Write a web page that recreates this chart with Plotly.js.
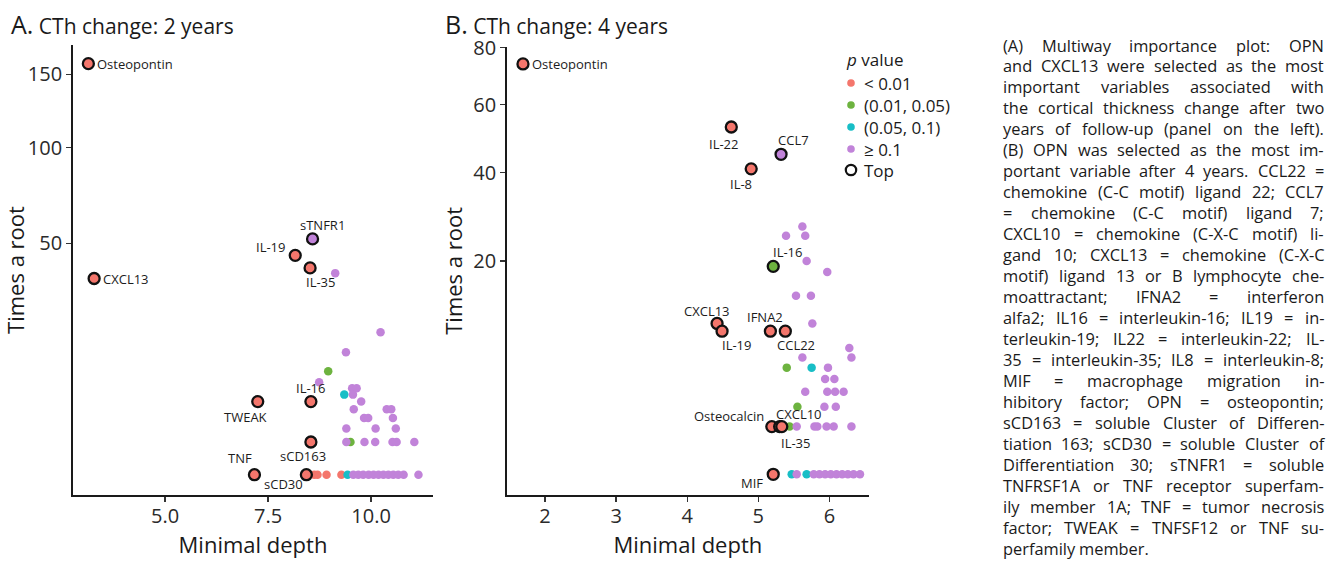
<!DOCTYPE html>
<html><head><meta charset="utf-8">
<script src="https://cdn.plot.ly/plotly-3.0.1.min.js"></script>
<style>html,body{margin:0;padding:0;background:#fff;}#chart{width:1338px;height:562px;}</style>
</head><body><div id="chart"></div>
<script>
// ---------- DATA ----------
const pLevels = ['<0.01', '0.01-0.05', '0.05-0.1', '>=0.1'];
const pLabels = ['< 0.01', '(0.01, 0.05)', '(0.05, 0.1)', '\u2265 0.1'];

// Panel A: CTh change, 2 years — top (labelled) variables
const aTopNames = ['Osteopontin', 'CXCL13', 'sTNFR1', 'IL-19', 'IL-35', 'IL-16', 'TWEAK', 'sCD163', 'TNF', 'sCD30'];
const aTopDepth = [3.14, 3.28, 8.58, 8.16, 8.52, 8.54, 7.25, 8.54, 7.17, 8.43];
const aTopTimes = [158, 36, 52, 45, 40, 5, 5, 1, 0, 0];
const aTopP = ['<0.01', '<0.01', '>=0.1', '<0.01', '<0.01', '<0.01', '<0.01', '<0.01', '<0.01', '<0.01'];

// Panel A — other variables
const aOtherDepth = [9.13, 10.23, 9.39, 8.96, 8.74, 9.54, 9.65, 9.35, 9.56, 9.76,
  9.58, 10.38, 10.49, 9.83, 9.93, 10.53, 9.40, 10.11, 10.60,
  9.40, 9.50, 9.84, 10.10, 10.52, 10.62, 11.05,
  8.62, 8.70, 8.92, 9.28, 9.43, 9.57, 9.69, 9.81, 9.94, 10.06, 10.18, 10.30, 10.42, 10.54, 10.66, 10.79, 11.15];
const aOtherTimes = [38, 19, 14, 10, 8, 7, 7, 6, 6, 5,
  4, 4, 4, 3, 3, 3, 2, 2, 2,
  1, 1, 1, 1, 1, 1, 1,
  0, 0, 0, 0, 0, 0, 0, 0, 0, 0, 0, 0, 0, 0, 0, 0, 0];
const aOtherP = ['>=0.1', '>=0.1', '>=0.1', '0.01-0.05', '>=0.1', '>=0.1', '>=0.1', '0.05-0.1', '>=0.1', '>=0.1',
  '>=0.1', '>=0.1', '>=0.1', '>=0.1', '>=0.1', '>=0.1', '>=0.1', '>=0.1', '>=0.1',
  '>=0.1', '0.01-0.05', '>=0.1', '>=0.1', '>=0.1', '>=0.1', '>=0.1',
  '<0.01', '<0.01', '<0.01', '<0.01', '0.05-0.1', '>=0.1', '>=0.1', '>=0.1', '>=0.1', '>=0.1', '>=0.1', '>=0.1', '>=0.1', '>=0.1', '>=0.1', '>=0.1', '>=0.1'];

// Panel B: CTh change, 4 years — top (labelled) variables
const bTopNames = ['Osteopontin', 'IL-22', 'CCL7', 'IL-8', 'IL-16', 'CXCL13', 'IL-19', 'IFNA2', 'CCL22', 'Osteocalcin', 'CXCL10', 'IL-35', 'MIF'];
const bTopDepth = [1.69, 4.62, 5.32, 4.90, 5.21, 4.42, 4.49, 5.17, 5.38, 5.19, 5.30, 5.33, 5.21];
const bTopTimes = [74, 53, 45, 41, 19, 10, 9, 9, 9, 1, 1, 1, 0];
const bTopP = ['<0.01', '<0.01', '>=0.1', '<0.01', '0.01-0.05', '<0.01', '<0.01', '<0.01', '<0.01', '<0.01', '<0.01', '<0.01', '<0.01'];

// Panel B — other variables
const bOtherDepth = [5.62, 5.39, 5.66, 5.68, 5.97, 5.53, 5.74, 5.76, 6.28, 5.62, 6.31,
  5.40, 5.75, 5.98, 5.94, 6.07, 5.66, 5.97, 6.08, 6.20, 5.55, 5.93, 6.09,
  5.44, 5.54, 5.79, 5.83, 5.96, 6.06, 6.31,
  5.47, 5.54, 5.68, 5.78, 5.86, 5.94, 6.02, 6.10, 6.18, 6.26, 6.34, 6.43];
const bOtherTimes = [27, 25, 25, 20, 18, 14, 14, 10, 7, 6, 6,
  5, 5, 5, 4, 4, 3, 3, 3, 3, 2, 2, 2,
  1, 1, 1, 1, 1, 1, 1,
  0, 0, 0, 0, 0, 0, 0, 0, 0, 0, 0, 0];
const bOtherP = ['>=0.1', '>=0.1', '>=0.1', '>=0.1', '>=0.1', '>=0.1', '>=0.1', '>=0.1', '>=0.1', '>=0.1', '>=0.1',
  '0.01-0.05', '0.05-0.1', '>=0.1', '>=0.1', '>=0.1', '>=0.1', '>=0.1', '>=0.1', '>=0.1', '0.01-0.05', '>=0.1', '>=0.1',
  '0.01-0.05', '>=0.1', '>=0.1', '>=0.1', '>=0.1', '>=0.1', '>=0.1',
  '0.05-0.1', '>=0.1', '0.05-0.1', '>=0.1', '>=0.1', '>=0.1', '>=0.1', '>=0.1', '>=0.1', '>=0.1', '>=0.1', '>=0.1'];

const aYTicks = [50, 100, 150];
const aXTicks = [5, 7.5, 10];
const bYTicks = [20, 40, 60, 80];
const bXTicks = [2, 3, 4, 5, 6];

const captionLines = [
  "(A) Multiway importance plot: OPN",
  "and CXCL13 were selected as the most",
  "important variables associated with",
  "the cortical thickness change after two",
  "years of follow-up (panel on the left).",
  "(B) OPN was selected as the most im-",
  "portant variable after 4 years. CCL22 =",
  "chemokine (C-C motif) ligand 22; CCL7",
  "= chemokine (C-C motif) ligand 7;",
  "CXCL10 = chemokine (C-X-C motif) li-",
  "gand 10; CXCL13 = chemokine (C-X-C",
  "motif) ligand 13 or B lymphocyte che-",
  "moattractant; IFNA2 = interferon",
  "alfa2; IL16 = interleukin-16; IL19 = in-",
  "terleukin-19; IL22 = interleukin-22; IL-",
  "35 = interleukin-35; IL8 = interleukin-8;",
  "MIF = macrophage migration in-",
  "hibitory factor; OPN = osteopontin;",
  "sCD163 = soluble Cluster of Differen-",
  "tiation 163; sCD30 = soluble Cluster of",
  "Differentiation 30; sTNFR1 = soluble",
  "TNFRSF1A or TNF receptor superfam-",
  "ily member 1A; TNF = tumor necrosis",
  "factor; TWEAK = TNFSF12 or TNF su-",
  "perfamily member."
];

// ---------- STYLE ----------
const W = 1338, H = 562;
const FONT = '"Open Sans", sans-serif';
const colorOf = {'<0.01': '#F4766C', '0.01-0.05': '#6DB33F', '0.05-0.1': '#18BEC6', '>=0.1': '#C183D9'};
const px = x => x / W;
const py = y => 1 - y / H;

// label offsets (pixels) for the labelled points
const aLabelPos = {
  'Osteopontin': {xs: 8, ys: 0, xa: 'left'},
  'CXCL13': {xs: 8, ys: 0, xa: 'left'},
  'sTNFR1': {xs: 10, ys: 14, xa: 'center'},
  'IL-19': {xs: -9, ys: 8, xa: 'right'},
  'IL-35': {xs: 10, ys: -14, xa: 'center'},
  'IL-16': {xs: 0, ys: 14, xa: 'center'},
  'TWEAK': {xs: -12, ys: -15, xa: 'center'},
  'sCD163': {xs: -8, ys: -14, xa: 'center'},
  'TNF': {xs: -14, ys: 17, xa: 'center'},
  'sCD30': {xs: -23, ys: -9, xa: 'center'}
};
const bLabelPos = {
  'Osteopontin': {xs: 8, ys: 0, xa: 'left'},
  'IL-22': {xs: -8, ys: -17, xa: 'center'},
  'CCL7': {xs: 12, ys: 14, xa: 'center'},
  'IL-8': {xs: -10, ys: -15, xa: 'center'},
  'IL-16': {xs: 14, ys: 14, xa: 'center'},
  'CXCL13': {xs: -10, ys: 12, xa: 'center'},
  'IL-19': {xs: 14, ys: -14, xa: 'center'},
  'IFNA2': {xs: -5, ys: 14, xa: 'center'},
  'CCL22': {xs: 11, ys: -14, xa: 'center'},
  'Osteocalcin': {xs: -7, ys: 11, xa: 'right'},
  'CXCL10': {xs: 19, ys: 13, xa: 'center'},
  'IL-35': {xs: 14, ys: -16, xa: 'center'},
  'MIF': {xs: -21, ys: -9, xa: 'center'}
};

// ---------- TRACES ----------
const traces = [];
function addPanel(depthO, timesO, pO, depthT, timesT, pT, xa, ya) {
  pLevels.forEach(lv => {
    const idx = pO.map((p, i) => p === lv ? i : -1).filter(i => i >= 0);
    traces.push({
      type: 'scatter', mode: 'markers', xaxis: xa, yaxis: ya, hoverinfo: 'skip',
      x: idx.map(i => depthO[i]), y: idx.map(i => Math.sqrt(timesO[i])),
      marker: {size: 8.5, color: colorOf[lv], line: {width: 0}}
    });
  });
  traces.push({
    type: 'scatter', mode: 'markers', xaxis: xa, yaxis: ya, hoverinfo: 'skip',
    x: depthT, y: timesT.map(v => Math.sqrt(v)),
    marker: {size: 11, color: pT.map(p => colorOf[p]), line: {width: 2.3, color: '#111'}}
  });
}
addPanel(aOtherDepth, aOtherTimes, aOtherP, aTopDepth, aTopTimes, aTopP, 'x', 'y');
addPanel(bOtherDepth, bOtherTimes, bOtherP, bTopDepth, bTopTimes, bTopP, 'x2', 'y2');

// ---------- ANNOTATIONS ----------
const annotations = [];
function addLabels(names, depth, times, pos, xr, yr) {
  names.forEach((n, i) => {
    const p = pos[n];
    annotations.push({
      x: depth[i], y: Math.sqrt(times[i]), xref: xr, yref: yr, text: n, showarrow: false,
      xanchor: p.xa, yanchor: 'middle', xshift: p.xs, yshift: p.ys, borderpad: 0,
      font: {family: FONT, size: 13, color: '#1c1c1c'}
    });
  });
}
addLabels(aTopNames, aTopDepth, aTopTimes, aLabelPos, 'x', 'y');
addLabels(bTopNames, bTopDepth, bTopTimes, bLabelPos, 'x2', 'y2');

// panel titles
[['A.', 'CTh change: 2 years', 10], ['B.', 'CTh change: 4 years', 444]].forEach(t => {
  annotations.push({
    x: px(t[2]), y: py(24), xref: 'paper', yref: 'paper', xanchor: 'left', yanchor: 'middle', showarrow: false,
    borderpad: 0,
    text: '<span style="font-size:25px">' + t[0] + '</span> ' + t[1],
    font: {family: FONT, size: 21, color: '#1a1a1a'}
  });
});

// legend (manual)
const shapes = [];
annotations.push({x: px(845), y: py(59), xref: 'paper', yref: 'paper', xanchor: 'left', yanchor: 'middle', showarrow: false,
  borderpad: 0, text: '<i>p</i> value', font: {family: FONT, size: 17, color: '#1a1a1a'}});
const legY = [83, 105, 127, 149];
pLevels.forEach((lv, i) => {
  const cx = 851, cy = legY[i], r = 3.8;
  shapes.push({type: 'circle', xref: 'paper', yref: 'paper', x0: px(cx - r), x1: px(cx + r), y0: py(cy + r), y1: py(cy - r),
    fillcolor: colorOf[lv], line: {width: 0}});
  annotations.push({x: px(863), y: py(cy), xref: 'paper', yref: 'paper', xanchor: 'left', yanchor: 'middle', showarrow: false,
    borderpad: 0, text: pLabels[i], font: {family: FONT, size: 17, color: '#1a1a1a'}});
});
{
  const cx = 851, cy = 170, r = 5.2;
  shapes.push({type: 'circle', xref: 'paper', yref: 'paper', x0: px(cx - r), x1: px(cx + r), y0: py(cy + r), y1: py(cy - r),
    fillcolor: '#fff', line: {width: 2.2, color: '#111'}});
  annotations.push({x: px(863), y: py(cy), xref: 'paper', yref: 'paper', xanchor: 'left', yanchor: 'middle', showarrow: false,
    borderpad: 0, text: 'Top', font: {family: FONT, size: 17, color: '#1a1a1a'}});
}

// caption, justified word by word
(function () {
  const left = 1002, right = 1323, width = right - left, top = 45, lh = 20.97;
  const ctx = document.createElement('canvas').getContext('2d');
  const base = 16;
  ctx.font = base + 'px "Open Sans"';
  const sp = ctx.measureText(' ').width;
  let need = 0;
  captionLines.forEach(l => {
    const w = l.split(' ');
    const ww = w.reduce((s, t) => s + ctx.measureText(t).width, 0);
    need = Math.max(need, ww + 0.55 * sp * (w.length - 1));
  });
  const size = Math.min(16.4, base * width / need);
  ctx.font = size + 'px "Open Sans"';
  const sp2 = ctx.measureText(' ').width;
  captionLines.forEach((l, li) => {
    const words = l.split(' ');
    const ws = words.map(t => ctx.measureText(t).width);
    const tot = ws.reduce((a, b) => a + b, 0);
    const last = li === captionLines.length - 1;
    const gap = (last || words.length < 2) ? sp2 : (width - tot) / (words.length - 1);
    let x = left;
    words.forEach((t, k) => {
      annotations.push({x: px(x), y: py(top + li * lh), xref: 'paper', yref: 'paper', xanchor: 'left', yanchor: 'middle',
        showarrow: false, borderpad: 0, text: t, font: {family: FONT, size: size, color: '#1a1a1a'}});
      x += ws[k] + gap;
    });
  });
})();

// ---------- AXES ----------
const axisCommon = {
  showline: true, linecolor: '#1a1a1a', linewidth: 1.6, ticks: 'outside', ticklen: 5, tickwidth: 1.3, tickcolor: '#333',
  showgrid: false, zeroline: false, tickfont: {family: FONT, size: 20, color: '#2a2a2a'}, fixedrange: true
};
const titleFont = {family: FONT, size: 22, color: '#1a1a1a'};
const layout = {
  width: W, height: H, margin: {l: 0, r: 0, t: 0, b: 0}, paper_bgcolor: '#fff', plot_bgcolor: 'rgba(0,0,0,0)',
  showlegend: false, font: {family: FONT},
  xaxis: Object.assign({}, axisCommon, {domain: [px(72.7), px(433.3)], range: [2.76, 11.51], anchor: 'y',
    tickvals: aXTicks, ticktext: aXTicks.map(v => v.toFixed(1)), ticklabelstandoff: -3,
    title: {text: 'Minimal depth', font: titleFont, standoff: 6}}),
  yaxis: Object.assign({}, axisCommon, {domain: [py(495), py(45)], range: [-0.62, 13.14], anchor: 'x',
    tickvals: aYTicks.map(Math.sqrt), ticktext: aYTicks.map(String),
    title: {text: 'Times a root', font: titleFont, standoff: 4}}),
  xaxis2: Object.assign({}, axisCommon, {domain: [px(506.7), px(869)], range: [1.461, 6.557], anchor: 'y2',
    tickvals: bXTicks, ticktext: bXTicks.map(String), ticklabelstandoff: -3,
    title: {text: 'Minimal depth', font: titleFont, standoff: 6}}),
  yaxis2: Object.assign({}, axisCommon, {domain: [py(495), py(46.7)], range: [-0.434, 8.964], anchor: 'x2',
    tickvals: bYTicks.map(Math.sqrt), ticktext: bYTicks.map(String),
    title: {text: 'Times a root', font: titleFont, standoff: 4}}),
  annotations: annotations, shapes: shapes
};
Plotly.newPlot('chart', traces, layout, {displayModeBar: false, staticPlot: true});
</script></body></html>
